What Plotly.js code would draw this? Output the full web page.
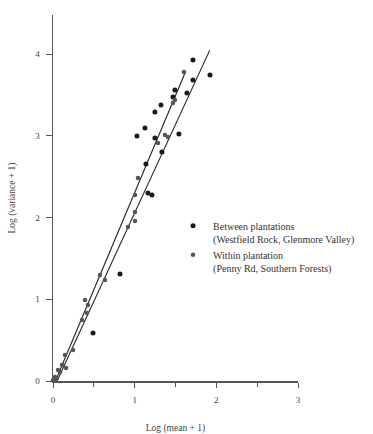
<!DOCTYPE html>
<html><head><meta charset="utf-8">
<script src="https://cdn.plot.ly/plotly-3.0.1.min.js"></script>
<style>html,body{margin:0;padding:0;background:#fff;}#chart{width:373px;height:434px;}</style>
</head><body><div id="chart"></div>
<script>
// Between plantations (log mean + 1, log variance + 1)
const betweenX = [1.714, 1.922, 1.714, 1.493, 1.469, 1.322, 1.248, 1.126, 1.028, 1.248, 1.542, 1.334, 1.138, 1.163, 1.212, 0.820, 0.490, 1.640];
const betweenY = [3.929, 3.745, 3.684, 3.562, 3.476, 3.378, 3.293, 3.097, 2.999, 2.974, 3.023, 2.803, 2.656, 2.301, 2.277, 1.310, 0.588, 3.525];
// Within plantation
const withinX = [1.603, 1.493, 1.469, 1.285, 1.371, 1.408, 1.040, 1.004, 1.004, 1.004, 0.918, 0.636, 0.575, 0.392, 0.428, 0.355, 0.416, 0.245, 0.147, 0.110, 0.061, 0.024, 0.000, 0.086, 0.160, 0.040];
const withinY = [3.782, 3.439, 3.402, 2.913, 3.011, 2.987, 2.485, 2.277, 2.069, 1.958, 1.885, 1.236, 1.297, 0.991, 0.930, 0.747, 0.832, 0.379, 0.318, 0.196, 0.135, 0.049, 0.010, 0.110, 0.160, 0.020];
// Fitted regression lines (endpoints)
const lineAX = [0.03, 1.62];
const lineAY = [0.0, 3.78];
const lineBX = [0.05, 1.92];
const lineBY = [0.0, 4.05];

const serif = 'Liberation Serif, Times New Roman, serif';
const axisFont = {family: serif, size: 9, color: '#444'};
const traces = [
  {x: lineAX, y: lineAY, mode: 'lines', line: {color: '#222', width: 1.1}, showlegend: false, hoverinfo: 'skip'},
  {x: lineBX, y: lineBY, mode: 'lines', line: {color: '#222', width: 1.1}, showlegend: false, hoverinfo: 'skip'},
  {x: betweenX, y: betweenY, mode: 'markers', name: 'Between plantations<br>(Westfield Rock, Glenmore Valley)',
   marker: {color: '#1a1a1a', size: 5}, cliponaxis: false},
  {x: withinX, y: withinY, mode: 'markers', name: 'Within plantation<br>(Penny Rd, Southern Forests)',
   marker: {color: '#555', size: 4.5}, cliponaxis: false}
];
const layout = {
  width: 373, height: 434,
  margin: {l: 53, r: 75, t: 15, b: 53},
  paper_bgcolor: '#fff', plot_bgcolor: '#fff',
  font: axisFont,
  showlegend: true,
  legend: {x: 0.49, y: 0.46, xanchor: 'left', yanchor: 'top', valign: 'top',
    font: {family: serif, size: 10, color: '#333'},
    bgcolor: 'rgba(0,0,0,0)', itemwidth: 30, tracegroupgap: 0},
  xaxis: {range: [0, 3], showgrid: false, zeroline: false, showline: true, linecolor: '#555', linewidth: 1.5,
    ticks: 'outside', ticklen: 5, tickcolor: '#555', tickvals: [0, 1, 2, 3], ticktext: ['0', '1', '2', '3'],
    minor: {tickvals: [0.5, 1.5, 2.5], ticks: 'outside', ticklen: 4, tickcolor: '#555'},
    tickfont: axisFont, ticklabelstandoff: 5,
    title: {text: 'Log (mean + 1)', font: {family: serif, size: 9.5, color: '#444'}, standoff: 22}},
  yaxis: {range: [0, 4.48], showgrid: false, zeroline: false, showline: true, linecolor: '#555', linewidth: 1.5,
    ticks: 'outside', ticklen: 6, tickcolor: '#555', tickvals: [0, 1, 2, 3, 4], ticktext: ['0', '1', '2', '3', '4'],
    tickfont: axisFont, ticklabelstandoff: 4,
    title: {text: 'Log (variance + 1)', font: {family: serif, size: 9.5, color: '#444'}, standoff: 18}}
};
Plotly.newPlot('chart', traces, layout, {displayModeBar: false, staticPlot: true});
</script></body></html>
